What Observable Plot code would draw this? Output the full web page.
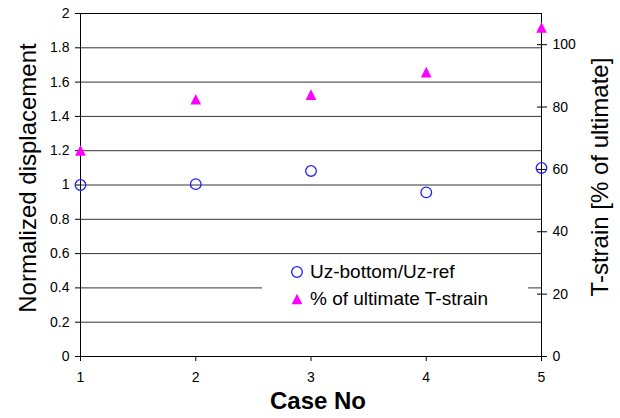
<!DOCTYPE html>
<html><head><meta charset="utf-8">
<script src="https://cdn.jsdelivr.net/npm/d3@7"></script>
<script src="https://cdn.jsdelivr.net/npm/@observablehq/plot@0.6"></script>
<style>
html,body{margin:0;padding:0;background:#fff;}
#wrap{position:relative;width:620px;height:418px;font-family:"Liberation Sans",Arial,sans-serif;color:#000;}
#legend{position:absolute;left:262px;top:256px;width:266px;height:60px;background:#fff;font-size:19px;}
.item{position:absolute;left:28px;height:22px;display:flex;align-items:center;white-space:nowrap;}
.item svg{margin-right:6px;flex:none;}
</style></head>
<body><div id="wrap"><div id="chart"></div><div id="legend"></div></div>
<script>
// ---- data ----
const cases = [1, 2, 3, 4, 5];
const uzRatio = [1.0, 1.005, 1.082, 0.957, 1.099];          // Uz-bottom/Uz-ref (left axis)
const tStrainPct = [66.1, 82.5, 84.0, 91.2, 105.5];         // % of ultimate T-strain (right axis)
const leftTicks = [0, 0.2, 0.4, 0.6, 0.8, 1.0, 1.2, 1.4, 1.6, 1.8, 2.0];
const rightTicks = [0, 20, 40, 60, 80, 100];
const xTicks = [1, 2, 3, 4, 5];
const leftMax = 2, rightMax = 110;
const seriesNames = ["Uz-bottom/Uz-ref", "% of ultimate T-strain"];
const xTitle = "Case No";
const yLeftTitle = "Normalized displacement";
const yRightTitle = "T-strain [% of ultimate]";

const rows = cases.map((c, i) => ({c, uz: uzRatio[i], t: tStrainPct[i]}));
const toLeft = v => v * leftMax / rightMax;

const FONT = "'Liberation Sans', Arial, sans-serif";
const blue = "#1f1fff", magenta = "#ff00ff";
// Excel-like triangle (width == height, centred on its bounding box)
const tri = {draw(ctx, size) { const a = Math.sqrt(size / Math.PI) * 1.3; ctx.moveTo(0, -a); ctx.lineTo(a, a); ctx.lineTo(-a, a); ctx.closePath(); }};

const chart = Plot.plot({
  width: 620, height: 418,
  marginLeft: 80, marginRight: 79, marginTop: 13, marginBottom: 62,
  style: {fontFamily: FONT, fontSize: "14px", color: "#000", background: "#fff"},
  x: {domain: [1, 5]},
  y: {domain: [0, leftMax]},
  marks: [
    Plot.gridY(leftTicks, {stroke: "#333", strokeOpacity: 1}),
    Plot.frame({stroke: "#000"}),
    Plot.axisY(leftTicks, {anchor: "left", tickSize: 5, tickPadding: 6, fontSize: 14, fontFamily: FONT, tickFormat: d => String(+d.toFixed(1)), label: null}),
    Plot.axisY(rightTicks.map(toLeft), {anchor: "right", tickSize: 10, insetRight: 5, tickPadding: 6, fontSize: 14, fontFamily: FONT, tickFormat: d => String(Math.round(d * rightMax / leftMax)), label: null}),
    Plot.axisX(xTicks, {tickSize: 5, tickPadding: 11, fontSize: 14, fontFamily: FONT, tickFormat: d => String(d), label: null}),
    Plot.dot(rows, {x: "c", y: d => toLeft(d.t), symbol: tri, r: 4.1, fill: magenta, stroke: "none"}),
    Plot.dot(rows, {x: "c", y: "uz", r: 5.3, stroke: blue, strokeWidth: 1.3, fill: "none"}),
    Plot.text([yLeftTitle], {text: d => d, frameAnchor: "left", rotate: -90, textAnchor: "middle", lineAnchor: "top", dx: -62, dy: -7, fontSize: 24, fontFamily: FONT}),
    Plot.text([yRightTitle], {text: d => d, frameAnchor: "right", rotate: -90, textAnchor: "middle", lineAnchor: "bottom", dx: 66, dy: -8, fontSize: 24, fontFamily: FONT}),
    Plot.text([xTitle], {text: d => d, frameAnchor: "bottom", textAnchor: "middle", lineAnchor: "top", dx: 7, dy: 35, fontSize: 24, fontWeight: "bold", fontFamily: FONT})
  ]
});
document.getElementById("chart").appendChild(chart);

// legend
const lg = document.getElementById("legend");
lg.innerHTML =
  `<div class="item" style="top:5px"><svg width="14" height="14"><circle cx="7" cy="7" r="5.3" fill="none" stroke="${blue}" stroke-width="1.3"/></svg><span>${seriesNames[0]}</span></div>` +
  `<div class="item" style="top:32px"><svg width="14" height="14"><polygon points="7,1.7 12.3,12.3 1.7,12.3" fill="${magenta}"/></svg><span>${seriesNames[1]}</span></div>`;
</script>
</body></html>
